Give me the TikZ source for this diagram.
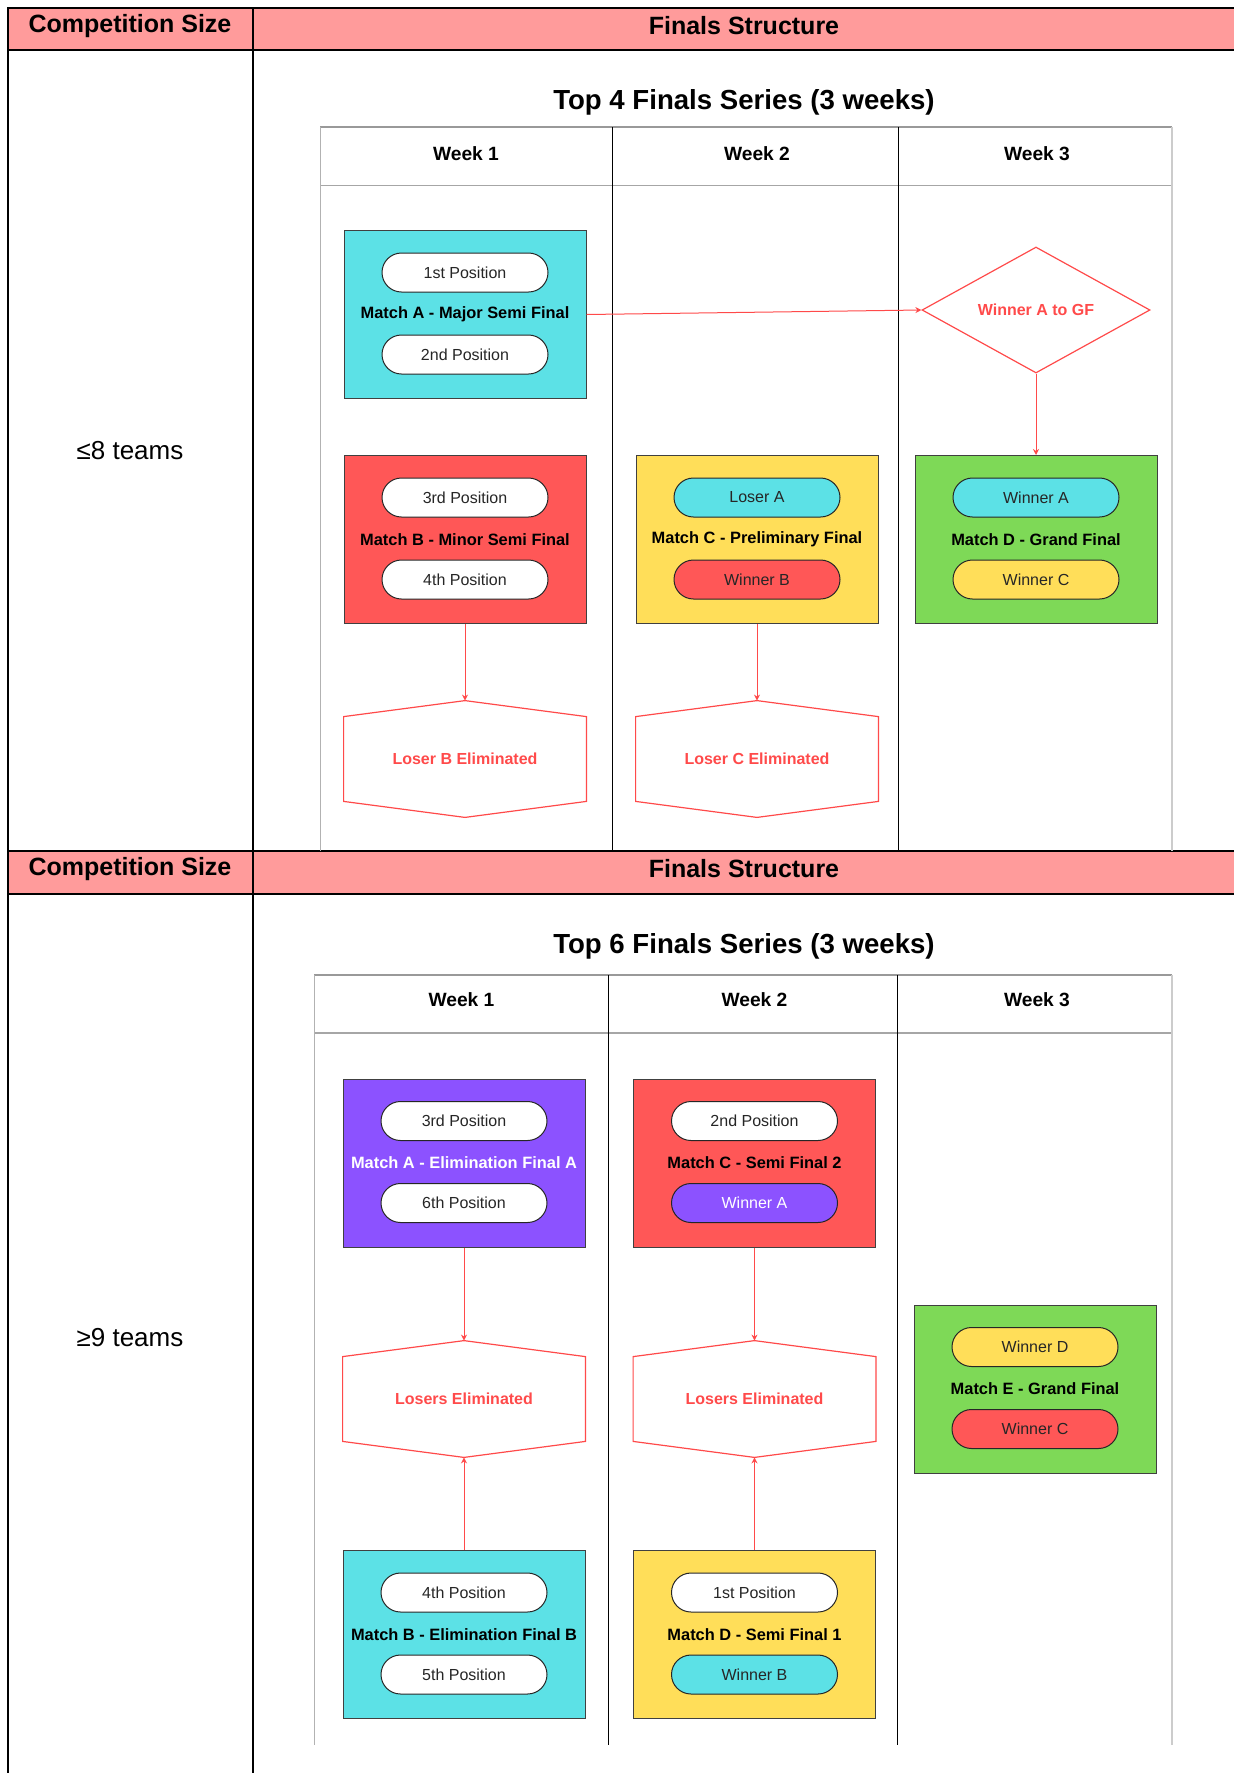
\documentclass[tikz,border=0pt]{standalone}
\usepackage{fontspec}
\setmainfont{Liberation Sans}
\usetikzlibrary{shapes.geometric,arrows.meta,positioning}
\definecolor{hdrpink}{HTML}{FF9B9B}
\definecolor{mcyan}{HTML}{5CE1E6}
\definecolor{mred}{HTML}{FF5757}
\definecolor{myellow}{HTML}{FFDE59}
\definecolor{mgreen}{HTML}{7ED957}
\definecolor{mpurple}{HTML}{8C52FF}
\definecolor{flowred}{HTML}{FF4A4A}
\begin{document}
\begin{tikzpicture}[x=0.5pt,y=-0.5pt,
  tbl/.style={line width=1.1pt},
  grid/.style={line width=0.5pt},
  hdr/.style={font=\bfseries\fontsize{12.5}{14}\selectfont},
  ttl/.style={font=\bfseries\fontsize{13.8}{16}\selectfont},
  wk/.style={font=\bfseries\fontsize{9.6}{11}\selectfont},
  rowlbl/.style={font=\fontsize{13}{15}\selectfont},
  match/.style={draw=black!75, line width=0.5pt, minimum width=121pt, minimum height=84pt, font=\bfseries\fontsize{8.2}{10}\selectfont},
  pill/.style={draw=black!85, line width=0.5pt, rounded corners=9.75pt, minimum width=83pt, minimum height=19.5pt, inner sep=0pt, font=\fontsize{8}{10}\selectfont, text=black!85},
  flow/.style={draw=flowred, line width=0.5pt, -{Stealth[length=3pt,width=3pt]}},
  elim/.style={minimum width=121pt, minimum height=58pt, text=flowred, font=\bfseries\fontsize{8}{10}\selectfont},
  hexline/.style={draw=flowred, line width=0.6pt},
  gf/.style={diamond, aspect=1.8, draw=flowred, line width=0.6pt, minimum width=114pt, minimum height=63pt, inner sep=0pt, text=flowred, font=\bfseries\fontsize{8}{10}\selectfont}]
\useasboundingbox (0,0) rectangle (1234,1773);

% outer table
\fill[hdrpink] (8,8) rectangle (1234,50);
\fill[hdrpink] (8,851) rectangle (1234,894);
\draw[tbl] (1234,8) -- (8,8) -- (8,1773);
\draw[tbl] (253,8) -- (253,1773);
\draw[tbl] (8,50) -- (1234,50);
\draw[tbl] (8,851) -- (1234,851);
\draw[tbl] (8,894) -- (1234,894);
\node[hdr] (cs1) at (130,26) {Competition Size};
\node[hdr] (fs1) at (744,26) {Finals Structure};
\node[hdr] (cs2) at (130,869) {Competition Size};
\node[hdr] (fs2) at (744,869) {Finals Structure};
\node[rowlbl] (r8) at (130,451) {≤8 teams};
\node[rowlbl] (r9) at (130,1338) {≥9 teams};

% top 4 series
\node[ttl] (t4) at (744,102) {Top 4 Finals Series (3 weeks)};
\draw[gray!80, line width=0.9pt] (320,127) -- (1172,127);
\draw[gray!70, line width=0.9pt] (320,185.5) -- (1172,185.5);
\draw[gray!60, grid] (320,127) -- (320,851);
\draw[grid] (612,127) -- (612,851);
\draw[grid] (898,127) -- (898,851);
\draw[gray!40, line width=1pt] (1172,127) -- (1172,851);
\node[wk] (w1) at (466,154) {Week 1};
\node[wk] (w2) at (757,154) {Week 2};
\node[wk] (w3) at (1037,154) {Week 3};

\node[match, fill=mcyan] (mA) at (465,314.5) {Match A - Major Semi Final};
\node[pill, fill=white, yshift=21pt] (pA1) at (mA) {1st Position};
\node[pill, fill=white, yshift=-20pt] (pA2) at (mA) {2nd Position};
\node[match, fill=mred] (mB) at (465,539.5) {Match B - Minor Semi Final};
\node[pill, fill=white, yshift=21pt] (pB1) at (mB) {3rd Position};
\node[pill, fill=white, yshift=-20pt] (pB2) at (mB) {4th Position};
\node[match, fill=myellow] (mC) at (757,539.5) {Match C - Preliminary Final};
\node[pill, fill=mcyan, yshift=21pt] (pC1) at (mC) {Loser A};
\node[pill, fill=mred, yshift=-20pt] (pC2) at (mC) {Winner B};
\node[match, fill=mgreen] (mD) at (1036,539.5) {Match D - Grand Final};
\node[pill, fill=mcyan, yshift=21pt] (pD1) at (mD) {Winner A};
\node[pill, fill=myellow, yshift=-20pt] (pD2) at (mD) {Winner C};

\node[gf] (gfA) at (1036,310) {Winner A to GF};
\node[elim] (eB) at (465,759) {Loser B Eliminated};
\node[elim] (eC) at (757,759) {Loser C Eliminated};

\draw[flow] (mA.east) -- (gfA.west);
\draw[flow] (gfA.south) -- (mD.north);
\draw[flow] (mB.south) -- (eB.north);
\draw[flow] (mC.south) -- (eC.north);

% top 6 series
\node[ttl] (t6) at (744,946) {Top 6 Finals Series (3 weeks)};
\draw[gray!80, line width=0.9pt] (314,975) -- (1172,975);
\draw[gray!70, line width=0.9pt] (314,1033) -- (1172,1033);
\draw[gray!60, grid] (314,975) -- (314,1745);
\draw[grid] (608.5,975) -- (608.5,1745);
\draw[grid] (897,975) -- (897,1745);
\draw[gray!40, line width=1pt] (1172,975) -- (1172,1745);
\node[wk] (v1) at (461.5,1000) {Week 1};
\node[wk] (v2) at (754.5,1000) {Week 2};
\node[wk] (v3) at (1037,1000) {Week 3};

\node[match, fill=mpurple, text=white] (nA) at (464,1163) {Match A - Elimination Final A};
\node[pill, fill=white, yshift=21pt] (qA1) at (nA) {3rd Position};
\node[pill, fill=white, yshift=-20pt] (qA2) at (nA) {6th Position};
\node[match, fill=mred] (nC) at (754.5,1163) {Match C - Semi Final 2};
\node[pill, fill=white, yshift=21pt] (qC1) at (nC) {2nd Position};
\node[pill, fill=mpurple, text=white, yshift=-20pt] (qC2) at (nC) {Winner A};
\node[match, fill=mcyan] (nB) at (464,1634.5) {Match B - Elimination Final B};
\node[pill, fill=white, yshift=21pt] (qB1) at (nB) {4th Position};
\node[pill, fill=white, yshift=-20pt] (qB2) at (nB) {5th Position};
\node[match, fill=myellow] (nD) at (754.5,1634.5) {Match D - Semi Final 1};
\node[pill, fill=white, yshift=21pt] (qD1) at (nD) {1st Position};
\node[pill, fill=mcyan, yshift=-20pt] (qD2) at (nD) {Winner B};
\node[match, fill=mgreen] (nE) at (1035,1389) {Match E - Grand Final};
\node[pill, fill=myellow, yshift=21pt] (qE1) at (nE) {Winner D};
\node[pill, fill=mred, yshift=-20pt] (qE2) at (nE) {Winner C};

\node[elim] (lAB) at (464,1399) {Losers Eliminated};
\node[elim] (lCD) at (754.5,1399) {Losers Eliminated};

\draw[flow] (nA.south) -- (lAB.north);
\draw[flow] (nB.north) -- (lAB.south);
\draw[flow] (nC.south) -- (lCD.north);
\draw[flow] (nD.north) -- (lCD.south);

% hexagon outlines
\foreach \h in {eB,eC,lAB,lCD}
  \draw[hexline] (\h.north) -- ([yshift=-8pt]\h.north east) -- ([yshift=8pt]\h.south east)
    -- (\h.south) -- ([yshift=8pt]\h.south west) -- ([yshift=-8pt]\h.north west) -- cycle;
\end{tikzpicture}
\end{document}
